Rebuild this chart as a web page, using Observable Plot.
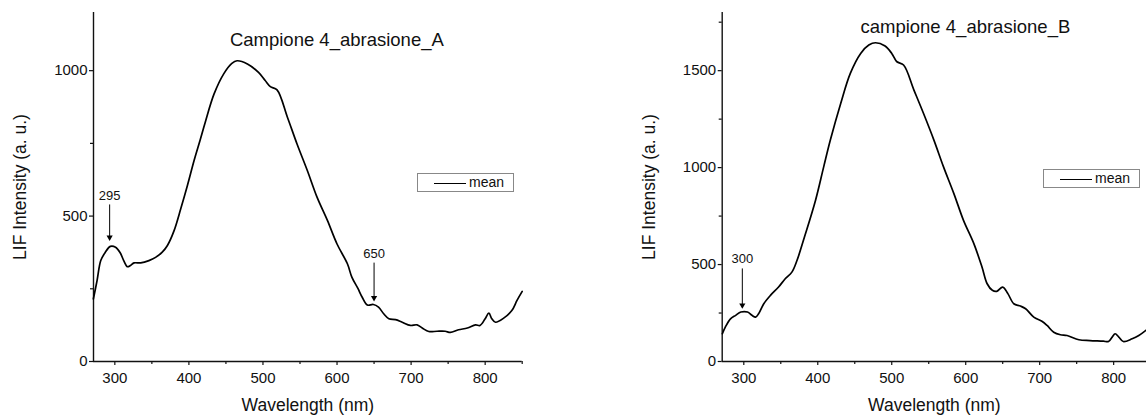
<!DOCTYPE html>
<html><head><meta charset="utf-8">
<script src="https://cdn.jsdelivr.net/npm/d3@7"></script>
<script src="https://cdn.jsdelivr.net/npm/@observablehq/plot@0.6"></script>
<style>
body{margin:0;background:#fff;font-family:"Liberation Sans",Arial,sans-serif;}
#wrap{position:relative;width:1146px;height:417px;overflow:hidden;}
.panel{position:absolute;top:0;}
.legend{position:absolute;border:1px solid #888;background:#fff;box-sizing:border-box;font-size:14px;color:#111;}
.legend .ln{position:absolute;height:0;border-top:1.6px solid #000;}
.legend .tx{position:absolute;line-height:14px;}
</style></head><body><div id="wrap"></div>
<script>
// ---- Data: Campione 4_abrasione_A ----
const wavelengthA = [271,276,281,287,294,301,307,312,317,321,326,335,346,355,364,371,380,389,398,407,415,422,434,447,458,465,479,494,503,510,519,533,546,560,573,587,600,614,620,628,634,641,649,656,663,670,679,688,699,708,715,724,735,746,753,764,776,787,793,800,805,809,814,825,836,843,850];
const intensityA  = [215,278,347,375,396,393,375,347,326,330,339,339,347,358,376,399,450,525,605,691,760,822,920,989,1025,1034,1023,994,966,945,934,840,748,656,565,485,404,336,290,252,221,194,196,187,164,147,144,135,124,126,115,103,104,104,100,109,115,126,124,147,166,147,135,149,175,210,241];

// ---- Data: campione 4_abrasione_B ----
const wavelengthB = [271,275,282,289,296,305,311,316,320,327,336,347,356,365,372,382,397,408,417,431,444,458,469,478,491,500,507,516,530,543,557,570,584,597,611,622,629,636,642,650,657,665,674,681,692,703,710,719,728,737,753,768,786,793,798,802,807,813,825,834,844];
const intensityB  = [143,177,220,238,255,255,238,229,246,298,341,384,427,461,522,642,832,1004,1142,1331,1486,1589,1632,1644,1627,1589,1546,1529,1400,1279,1142,1004,866,728,608,487,401,367,362,384,350,298,286,272,229,208,186,151,138,134,112,108,105,103,126,143,126,103,117,134,162];

// ---- Tick values ----
const xTicks = [300,400,500,600,700,800];
const xMinorA = [350,450,550,650,750,850];
const xMinorB = [350,450,550,650,750];
const yTicksA = [0,500,1000];
const yMinorA = [250,750];
const yTicksB = [0,500,1000,1500];
const yMinorB = [250,750,1250,1750];

// ---- Text ----
const titles = ["Campione 4_abrasione_A", "campione 4_abrasione_B"];
const xLabel = "Wavelength (nm)";
const yLabel = "LIF Intensity (a. u.)";
const legendLabel = "mean";

// ---- Annotations (peak wavelength, label, label height, arrow start, arrow tip) ----
const annotsA = [
  {wl: 293, label: "295", textY: 570, top: 540, tip: 420},
  {wl: 650, label: "650", textY: 371, top: 340, tip: 212}
];
const annotsB = [
  {wl: 298, label: "300", textY: 532, top: 480, tip: 280}
];

const FONT = "Liberation Sans, Arial, sans-serif";
const fmt = d => String(d);

function panel({wl, val, xDomain, yDomain, yMajor, yMinor, xMinor, title, tdx, tdy, marginLeft, marginRight, annots}) {
  const data = wl.map((w, i) => ({wl: w, v: val[i]}));
  return Plot.plot({
    width: 573, height: 417,
    marginTop: 12, marginBottom: 56, marginLeft, marginRight,
    style: {fontFamily: FONT, fontSize: "15px", color: "#111", background: "transparent", overflow: "visible"},
    x: {domain: xDomain},
    y: {domain: yDomain},
    marks: [
      Plot.ruleY([yDomain[0]], {stroke: "#111", strokeWidth: 1.4}),
      Plot.ruleX([xDomain[0]], {stroke: "#111", strokeWidth: 1.4}),
      Plot.axisX({ticks: xTicks, tickSize: 4, tickPadding: 7, tickFormat: fmt, label: null, fontSize: 15, strokeWidth: 1.2}),
      Plot.axisX({ticks: xMinor, tickSize: 3, tickFormat: () => "", label: null, strokeWidth: 1.2}),
      Plot.axisY({ticks: yMajor, tickSize: 4, tickPadding: 2, tickFormat: fmt, label: null, fontSize: 15, strokeWidth: 1.2}),
      Plot.axisY({ticks: yMinor, tickSize: 3, tickFormat: () => "", label: null, strokeWidth: 1.2}),
      Plot.line(data, {x: "wl", y: "v", stroke: "#000", strokeWidth: 1.7, curve: "catmull-rom"}),
      Plot.link(annots, {x1: "wl", x2: "wl", y1: "top", y2: "tip", stroke: "#000", strokeWidth: 1}),
      Plot.dot(annots, {x: "wl", y: "tip", symbol: "triangle", r: 2.3, fill: "#000", stroke: "none", rotate: 180, dy: -2}),
      Plot.text(annots, {x: "wl", y: "textY", text: "label", fontSize: 13, fill: "#111"}),
      Plot.text([title], {frameAnchor: "top", textAnchor: "middle", lineAnchor: "middle", dx: tdx, dy: tdy, fontSize: 18.5, fill: "#111"}),
      Plot.text([yLabel], {frameAnchor: "left", textAnchor: "middle", lineAnchor: "middle", rotate: -90, dx: -73, fontSize: 17.5, fill: "#111"}),
      Plot.text([xLabel], {frameAnchor: "bottom", textAnchor: "middle", lineAnchor: "middle", dy: 44, fontSize: 17.5, fill: "#111"})
    ]
  });
}

const wrap = document.getElementById("wrap");

const left = document.createElement("div");
left.className = "panel"; left.style.left = "0px";
left.appendChild(panel({
  wl: wavelengthA, val: intensityA, xDomain: [271.2, 850], yDomain: [0, 1200],
  yMajor: yTicksA, yMinor: yMinorA, xMinor: xMinorA, title: titles[0], tdx: 29, tdy: 28,
  marginLeft: 93, marginRight: 51.3, annots: annotsA
}));
wrap.appendChild(left);

const right = document.createElement("div");
right.className = "panel"; right.style.left = "573px";
right.appendChild(panel({
  wl: wavelengthB, val: intensityB, xDomain: [270.8, 844.4], yDomain: [0, 1800],
  yMajor: yTicksB, yMinor: yMinorB, xMinor: xMinorB, title: titles[1], tdx: 31, tdy: 15,
  marginLeft: 148.7, marginRight: 0, annots: annotsB
}));
wrap.appendChild(right);

function legend(x, y, w, h) {
  const box = document.createElement("div");
  box.className = "legend";
  Object.assign(box.style, {left: x + "px", top: y + "px", width: w + "px", height: h + "px"});
  const ln = document.createElement("div");
  ln.className = "ln";
  Object.assign(ln.style, {left: "16px", width: "32px", top: (h / 2 - 1) + "px"});
  const tx = document.createElement("div");
  tx.className = "tx"; tx.textContent = legendLabel;
  Object.assign(tx.style, {left: "51px", top: (h / 2 - 8.5) + "px"});
  box.append(ln, tx);
  wrap.appendChild(box);
}
legend(417, 173, 97, 19);
legend(1043, 169, 97, 19);
</script>
</body></html>
